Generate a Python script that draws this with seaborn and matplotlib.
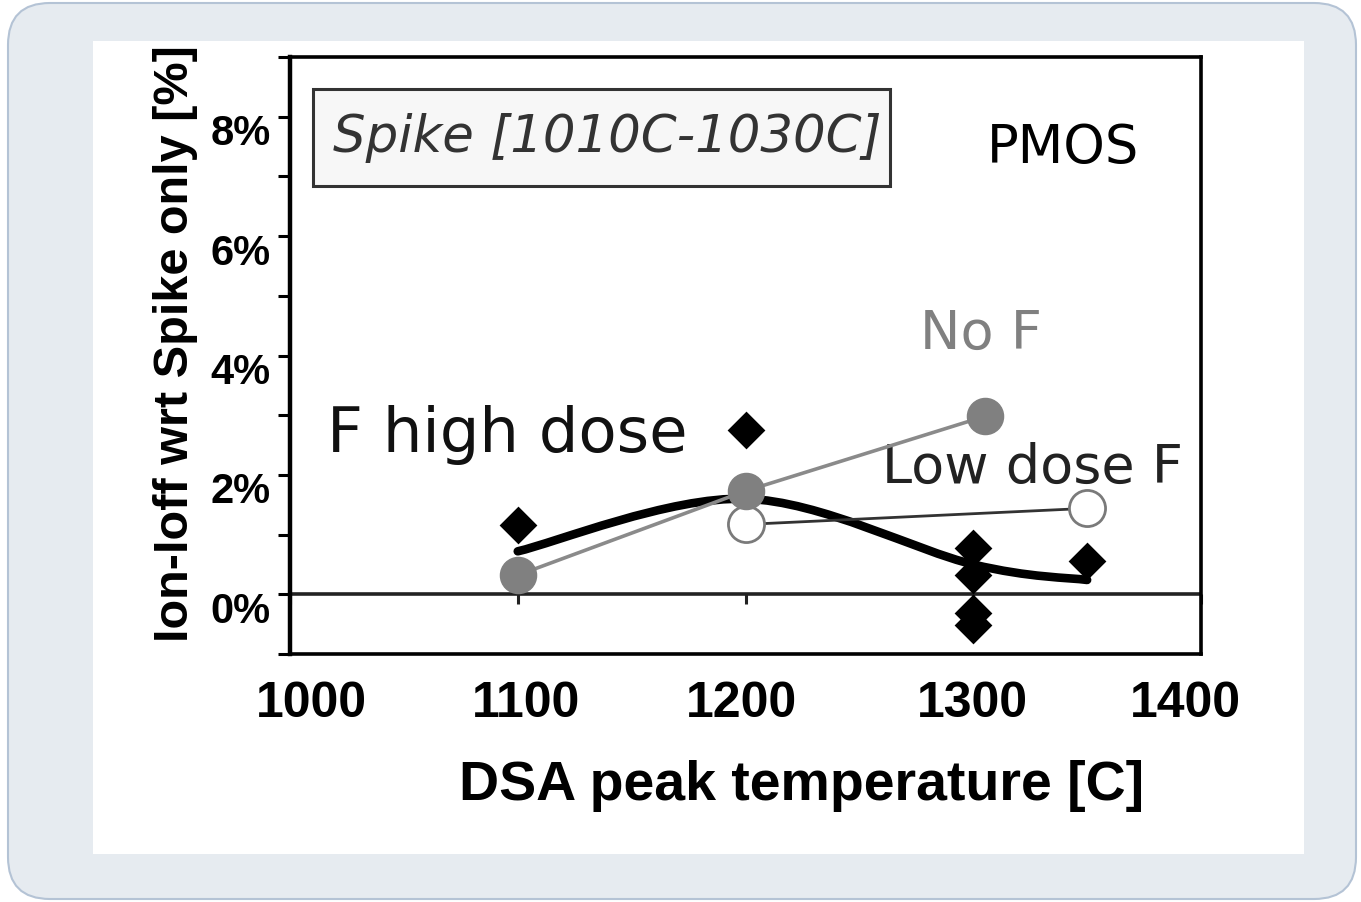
import numpy as np
import pandas as pd
import matplotlib
matplotlib.use("Agg")
import matplotlib.pyplot as plt
import seaborn as sns
from matplotlib.patches import FancyBboxPatch, Rectangle, PathPatch
from matplotlib.path import Path
from matplotlib.transforms import IdentityTransform, ScaledTranslation
from matplotlib import font_manager

# ---------------- data ----------------
temp_ticks = [1000, 1100, 1200, 1300, 1400]
pct_ticks = [-1, 0, 1, 2, 3, 4, 5, 6, 7, 8, 9]
pct_labels = ["", "0%", "", "2%", "", "4%", "", "6%", "", "8%", ""]

# F high dose: individual measurements (black diamonds)
high_dose_temp = [1100, 1200, 1300, 1300, 1300, 1300, 1350]
high_dose_gain = [1.16, 2.76, 0.77, 0.32, -0.32, -0.52, 0.55]

# F high dose: smoothed trend (thick black line)
trend_temp = [1100, 1200, 1300, 1350]
trend_gain = [0.72, 1.60, 0.50, 0.24]

# No F (grey filled circles)
no_f_temp = [1100, 1200, 1305]
no_f_gain = [0.32, 1.73, 2.98]

# Low dose F (open circles)
low_f_temp = [1200, 1350]
low_f_gain = [1.17, 1.44]

# ---------------- styling ----------------
W, H, DPI = 1361, 903, 100
sns.set_theme(style="white")
plt.rcParams["font.family"] = ["Liberation Sans", "DejaVu Sans"]
plt.rcParams["text.color"] = "black"
plt.rcParams["axes.labelcolor"] = "black"
plt.rcParams["xtick.color"] = "black"
plt.rcParams["ytick.color"] = "black"

fig = plt.figure(figsize=(W / DPI, H / DPI), dpi=DPI)
fig.patch.set_facecolor("white")

# rounded card behind the chart and white panel
card = FancyBboxPatch((8, H - 900), 1348, 896,
                      boxstyle="round,pad=0,rounding_size=42",
                      transform=IdentityTransform(), facecolor="#e6ebf0",
                      edgecolor="#b4c3d5", linewidth=1.5, zorder=-3)
fig.add_artist(card)
panel = Rectangle((93, H - 855), 1211, 813, transform=IdentityTransform(),
                  facecolor="white", edgecolor="none", zorder=-2)
fig.add_artist(panel)

AX_L, AX_R, AX_T, AX_B = 290, 1201, 58, 655
ax = fig.add_axes([AX_L / W, (H - AX_B) / H, (AX_R - AX_L) / W, (AX_B - AX_T) / H])
ax.set_facecolor("white")


def ax_frac(px, py):
    """pixel position (origin top-left) -> axes fraction"""
    return (px - AX_L) / (AX_R - AX_L), (AX_B - py) / (AX_B - AX_T)


ax.set_xlim(temp_ticks[0], temp_ticks[-1])
ax.set_ylim(pct_ticks[0], pct_ticks[-1])

for side, sp in ax.spines.items():
    sp.set_visible(True)
    sp.set_color("black")
    sp.set_linewidth(2.6)
ax.spines["left"].set_linewidth(3.2)

# fonts
bold = font_manager.FontProperties(family="Liberation Sans", weight="bold", size=30)
try:
    font_manager.findfont(font_manager.FontProperties(family="Liberation Sans Narrow"),
                          fallback_to_default=False)
    xtick_fp = font_manager.FontProperties(family="Liberation Sans Narrow", weight="bold", size=42)
except Exception:
    xtick_fp = font_manager.FontProperties(family="Liberation Sans", weight="bold", size=36)

# y axis
ax.set_yticks(pct_ticks)
ax.set_yticklabels(pct_labels, fontproperties=bold)
ax.tick_params(axis="y", which="major", direction="out", length=9, width=2.2,
               color="black", labelcolor="black", pad=5, left=True, right=False)
for lab in ax.get_yticklabels():
    lab.set_transform(lab.get_transform() + ScaledTranslation(0, -12 / DPI, fig.dpi_scale_trans))

# x axis
ax.set_xticks(temp_ticks)
ax.set_xticklabels([str(t) for t in temp_ticks], fontproperties=xtick_fp)
ax.tick_params(axis="x", which="major", length=0, pad=19, bottom=True, labelcolor="black")
xlabel_shift = [21, 8, -4, -1, -16]
for lab, dx in zip(ax.get_xticklabels(), xlabel_shift):
    lab.set_transform(lab.get_transform() + ScaledTranslation(dx / DPI, 0, fig.dpi_scale_trans))

ax.set_ylabel("Ion-Ioff wrt Spike only [%]", fontsize=35, fontweight="bold",
              color="black", va="center")
ax.yaxis.set_label_coords(*ax_frac(176, 344))
ax.set_xlabel("DSA peak temperature [C]", fontsize=40, fontweight="bold", color="black")
ax.xaxis.label.set_va("baseline")
ax.xaxis.set_label_coords(*ax_frac(802, 800))

# zero axis line with small tick marks below it
ax.axhline(0, color="#222222", lw=2.6, zorder=1)
ax.plot(temp_ticks, [0] * len(temp_ticks), linestyle="none", marker=3,
        markersize=7, markeredgewidth=2.2, color="#222222", zorder=1, clip_on=False)

# smoothed trend for F high dose (Catmull-Rom style Bezier through trend points)
pts = np.column_stack([trend_temp, trend_gain]).astype(float)
verts, codes = [pts[0]], [Path.MOVETO]
n = len(pts)
for i in range(n - 1):
    p0 = pts[i - 1] if i > 0 else pts[i]
    p1, p2 = pts[i], pts[i + 1]
    p3 = pts[i + 2] if i + 2 < n else pts[i + 1]
    verts += [p1 + (p2 - p0) / 6, p2 - (p3 - p1) / 6, p2]
    codes += [Path.CURVE4] * 3
ax.add_patch(PathPatch(Path(verts, codes), fill=False, edgecolor="black",
                       linewidth=6.2, capstyle="round", joinstyle="round", zorder=3))

# Low dose F
sns.lineplot(x=low_f_temp, y=low_f_gain, ax=ax, color="#333333", linewidth=2.0,
             marker="o", markersize=26, markerfacecolor="white",
             markeredgecolor="#7a7a7a", markeredgewidth=2.0, zorder=5, legend=False)

# No F
sns.lineplot(x=no_f_temp, y=no_f_gain, ax=ax, color="#8a8a8a", linewidth=2.6,
             marker="o", markersize=26, markerfacecolor="#808080",
             markeredgecolor="#808080", markeredgewidth=1.0, zorder=6, legend=False)

# F high dose measurements
sns.scatterplot(x=high_dose_temp, y=high_dose_gain, ax=ax, marker="D", s=370,
                color="black", edgecolor="black", linewidth=0, zorder=7, legend=False)

# annotations
verd = ["DejaVu Sans"]
box_x0, box_y1 = ax_frac(313, 187)
box_x1, box_y0 = ax_frac(890, 90)
ax.add_patch(Rectangle((box_x0, box_y1), box_x1 - box_x0, box_y0 - box_y1,
                       transform=ax.transAxes, facecolor="#f7f7f7",
                       edgecolor="#333333", linewidth=2.2, zorder=8))
ax.text(*ax_frac(607, 152), "Spike [1010C-1030C]", transform=ax.transAxes,
        family=verd, style="italic", fontsize=37, color="#333333",
        ha="center", va="baseline", zorder=9)
ax.text(*ax_frac(987, 163), "PMOS", transform=ax.transAxes, family=verd,
        fontsize=38, color="black", ha="left", va="baseline", zorder=9)
ax.text(*ax_frac(920, 349), "No F", transform=ax.transAxes, family=verd,
        fontsize=39, color="#808080", ha="left", va="baseline", zorder=9)
ax.text(*ax_frac(327, 452), "F high dose", transform=ax.transAxes, family=verd,
        fontsize=45, color="#111111", ha="left", va="baseline", zorder=9)
ax.text(*ax_frac(882, 483), "Low dose F", transform=ax.transAxes, family=verd,
        fontsize=39, color="#222222", ha="left", va="baseline", zorder=4)

fig.savefig("out.png", dpi=DPI, facecolor=fig.get_facecolor())
